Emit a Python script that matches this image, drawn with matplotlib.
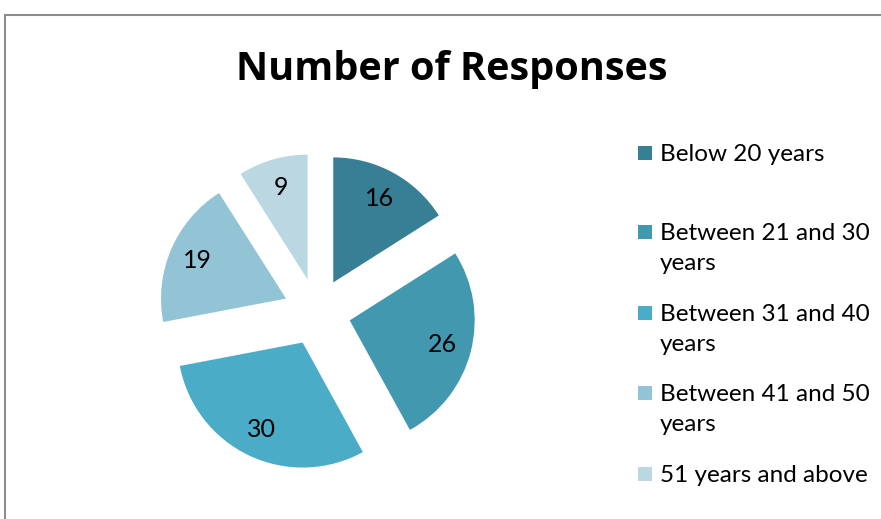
import matplotlib.pyplot as plt
from matplotlib.patches import Rectangle

plt.rcParams['font.family'] = ['Lato', 'DejaVu Sans']

categories = ['Below 20 years', 'Between 21 and 30\nyears', 'Between 31 and 40\nyears',
              'Between 41 and 50\nyears', '51 years and above']
responses = [16, 26, 30, 19, 9]
colors = ['#367f94', '#4299af', '#4aacc6', '#93c4d5', '#bad7e2']

W, H = 881, 519
fig = plt.figure(figsize=(W / 100, H / 100), dpi=100)

# thin grey chart-area border, only top and left edges are inside the image
fig.add_artist(Rectangle((5 / W, -0.1), 1.2, 1.1 - 15.5 / H, transform=fig.transFigure,
                         fill=False, edgecolor='#8c8c8c', linewidth=1.5))

fig.text(452 / W, 1 - 80 / H, 'Number of Responses', ha='center', va='baseline',
         fontsize=28.5, fontweight='bold', color='black', family=['Open Sans', 'DejaVu Sans'])

# pie axes: centre at (317, 312) px, radius 125 px
r_px = 125
lim = 1.5
side = 2 * lim * r_px
cx, cy = 317, H - 312
ax = fig.add_axes([(cx - side / 2) / W, (cy - side / 2) / H, side / W, side / H])
total = sum(responses)
wedges, texts, autotexts = ax.pie(
    responses, colors=colors, startangle=90, counterclock=False,
    explode=[0.27] * len(responses), pctdistance=0.77,
    autopct=lambda p: f'{p * total / 100:.0f}',
    textprops=dict(fontsize=18, color='black'))
ax.set_xlim(-lim, lim)
ax.set_ylim(-lim, lim)
ax.set_aspect('equal')
ax.axis('off')

# legend drawn by hand so the marker sits beside the first line of each label
leg_y = [153, 232, 313, 393, 474]
for lab, col, y in zip(categories, colors, leg_y):
    fig.add_artist(Rectangle((638 / W, 1 - (y + 7) / H), 14 / W, 14 / H,
                             transform=fig.transFigure, facecolor=col, edgecolor='none'))
    fig.text(660 / W, 1 - (y - 9) / H, lab, ha='left', va='top', fontsize=17.5,
             linespacing=1.55, color='black')

fig.savefig('out.png', dpi=100)
